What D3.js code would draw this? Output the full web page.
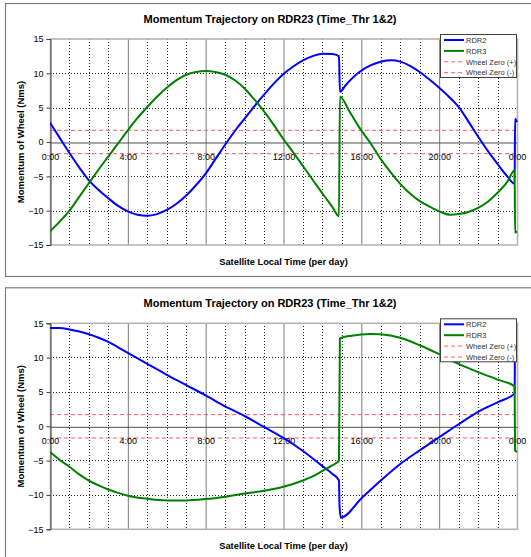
<!DOCTYPE html>
<html>
<head>
<meta charset="utf-8">
<script src="https://cdn.jsdelivr.net/npm/d3@7"></script>
<style>
  body { margin: 0; background: #fff; }
  text { font-family: "Liberation Sans", Arial, sans-serif; }
</style>
</head>
<body>
<svg id="chart" width="531" height="557"></svg>
<script>
// textos y ejes
const chartTitle = "Momentum Trajectory on RDR23 (Time_Thr 1&2)"
const xTitle = "Satellite Local Time (per day)"
const yTitle = "Momentum of Wheel (Nms)"
const hourTicks = [0, 4, 8, 12, 16, 20, 24]
const hourLabels = ["0:00", "4:00", "8:00", "12:00", "16:00", "20:00", "0:00"]
const valueTicks = [15, 10, 5, 0, -5, -10, -15]
const seriesNames = ["RDR2", "RDR3", "Wheel Zero (+)", "Wheel Zero (-)"]
const wheelZero = [1.7, -1.7]

// grafico superior: [hora, momento]
const top_rdr2 = [
  [0, 2.8], [0.5, 0.6], [1, -1.6], [1.5, -3.7], [2, -5.6], [2.5, -7.0], [3, -8.2], [3.5, -9.3],
  [4, -10.1], [4.5, -10.6], [5, -10.75], [5.5, -10.5], [6, -9.9], [6.5, -9.0], [7, -7.8],
  [7.5, -6.3], [8, -4.6], [8.5, -2.5], [9, -0.4], [9.5, 1.6], [10, 3.4], [10.5, 5.2],
  [11, 6.9], [11.5, 8.5], [12, 9.9], [12.5, 11.0], [13, 11.9], [13.5, 12.5], [14, 12.85],
  [14.5, 12.8], [14.85, 12.5], [14.9, 7.3], [15.2, 8.3], [15.9, 10.2], [16.5, 11.2],
  [17, 11.7], [17.55, 11.9], [18, 11.7], [18.5, 11.1], [19, 10.2], [19.5, 9.1], [20, 7.9],
  [20.5, 6.6], [21, 5.1], [21.5, 3.0], [22, 0.8], [22.5, -1.3], [23, -3.2], [23.5, -5.0],
  [23.88, -6.1], [23.9, 3.4], [24, 2.9]
]
const top_rdr3 = [
  [0, -13.0], [0.5, -11.6], [1, -10.0], [1.5, -8.0], [2, -6.0], [2.5, -4.0], [3, -2.1],
  [3.5, -0.2], [4, 1.7], [4.5, 3.5], [5, 5.1], [5.5, 6.6], [6, 7.9], [6.5, 9.0], [7, 9.8],
  [7.5, 10.2], [8, 10.35], [8.5, 10.2], [9, 9.8], [9.5, 9.0], [10, 7.8], [10.5, 6.2],
  [10.8, 5.2], [11.5, 2.5], [12, 0.4], [12.5, -1.5], [13, -3.5], [13.5, -5.5], [14, -7.5],
  [14.5, -9.4], [14.85, -10.8], [14.9, 6.6], [15.4, 4.4], [15.9, 2.1], [16.5, -0.3],
  [17, -2.5], [17.5, -4.4], [18, -6.1], [18.5, -7.5], [19, -8.6], [19.5, -9.4], [20, -10.1],
  [20.6, -10.6], [21, -10.5], [21.5, -10.2], [22, -9.6], [22.5, -8.7], [23, -7.4],
  [23.5, -5.8], [23.88, -4.1], [23.9, -13.2], [24, -13.0]
]

// grafico inferior
const bottom_rdr2 = [
  [0, 14.3], [0.5, 14.3], [1, 14.1], [1.5, 13.8], [2, 13.4], [2.5, 12.9], [3, 12.3],
  [3.5, 11.5], [4, 10.7], [5, 9.1], [6, 7.5], [7, 6.0], [8, 4.5], [9, 2.9], [10, 1.5],
  [11, -0.1], [12, -1.7], [13, -3.6], [14, -5.8], [14.5, -6.9], [14.85, -7.9],
  [14.88, -11.7], [14.95, -13.3], [16, -10.5], [17, -7.9], [18, -5.5], [19, -3.5],
  [20, -1.6], [21, 0.3], [22, 2.1], [23, 3.5], [23.88, 4.8], [23.9, 14.3], [24, 14.3]
]
const bottom_rdr3 = [
  [0, -3.75], [0.5, -4.9], [1, -5.9], [1.5, -7.0], [2, -7.9], [2.5, -8.6], [3, -9.2],
  [3.5, -9.7], [4, -10.1], [5, -10.55], [6, -10.8], [7, -10.8], [8, -10.6], [9, -10.25],
  [10, -9.8], [11, -9.4], [12, -8.8], [13, -7.9], [13.5, -7.3], [14, -6.5], [14.5, -5.7],
  [14.85, -5.0], [14.9, 12.8], [15.5, 13.2], [16.45, 13.45], [17, 13.4], [18, 12.9],
  [19, 11.8], [20, 10.5], [21, 9.1], [22, 7.9], [23, 6.8], [23.88, 5.8], [23.9, -3.5],
  [24, -3.7]
]

const svg = d3.select("#chart")
const blue = "#0000ff", green = "#008000", red = "#ff5a5a"

// zona del grafico
const plot = { left: 50, right: 517, top: 39, bottom: 245 }
const x = d3.scaleLinear().domain([0, 24]).range([plot.left, plot.right])
const y = d3.scaleLinear().domain([-15, 15]).range([plot.bottom, plot.top])

const line = d3.line()
  .x(d => x(d[0]))
  .y(d => y(d[1]))
  .curve(d3.curveMonotoneX)

function drawChart(dy, rdr2, rdr3, id) {
  const g = svg.append("g").attr("transform", `translate(0,${dy})`)

  // marco exterior
  g.append("rect")
    .attr("x", 5.5).attr("y", 3.5)
    .attr("width", 530).attr("height", 273)
    .attr("fill", "#fff")
    .attr("stroke", "#7f7f7f")
    .attr("stroke-width", 1.2)

  g.append("text")
    .attr("x", 270).attr("y", 23)
    .attr("text-anchor", "middle")
    .style("font-size", "11px").style("font-weight", "bold")
    .text(chartTitle)

  // rejilla vertical menor (cada hora)
  g.append("g").selectAll("line")
    .data(x.ticks(24).filter(h => h % 4 !== 0))
    .join("line")
    .attr("x1", d => Math.round(x(d)) + 0.5).attr("x2", d => Math.round(x(d)) + 0.5)
    .attr("y1", plot.top).attr("y2", plot.bottom)
    .attr("stroke", "#222").attr("stroke-width", 1)
    .attr("stroke-dasharray", "1,2")
    .attr("shape-rendering", "crispEdges")

  // rejilla horizontal
  g.append("g").selectAll("line")
    .data(valueTicks.filter(v => Math.abs(v) !== 15 && v !== 0))
    .join("line")
    .attr("x1", plot.left).attr("x2", plot.right)
    .attr("y1", d => Math.round(y(d)) + 0.5).attr("y2", d => Math.round(y(d)) + 0.5)
    .attr("stroke", "#222").attr("stroke-width", 1)
    .attr("stroke-dasharray", "1,2")
    .attr("shape-rendering", "crispEdges")

  // rejilla vertical mayor (cada 4 horas)
  g.append("g").selectAll("line")
    .data(hourTicks.filter(h => h > 0 && h < 24))
    .join("line")
    .attr("x1", d => x(d) + 0.5).attr("x2", d => x(d) + 0.5)
    .attr("y1", plot.top).attr("y2", plot.bottom)
    .attr("stroke", "#7a7a7a").attr("stroke-width", 1)

  // borde del area de trazado
  g.append("rect")
    .attr("x", plot.left + 0.5).attr("y", plot.top)
    .attr("width", plot.right - plot.left).attr("height", plot.bottom - plot.top)
    .attr("fill", "none")
    .attr("stroke", "#b4b4b4").attr("stroke-width", 1.6)

  // lineas Wheel Zero
  g.append("g").selectAll("line")
    .data(wheelZero)
    .join("line")
    .attr("x1", plot.left).attr("x2", plot.right)
    .attr("y1", d => y(d)).attr("y2", d => y(d))
    .attr("stroke", red).attr("stroke-width", 1)
    .attr("stroke-dasharray", "4,3")

  // eje Y
  const yAxis = g.append("g")
    .attr("transform", `translate(${plot.left + 0.5},0)`)
    .call(d3.axisLeft(y).tickValues(valueTicks).tickSize(4).tickPadding(3))
  yAxis.select(".domain").attr("stroke", "#404040")
  yAxis.selectAll(".tick line").attr("stroke", "#404040")
  yAxis.selectAll("text").style("font-size", "9px").attr("fill", "#000")
    .style("font-family", "'Liberation Sans', Arial, sans-serif")

  // eje X sobre el cero
  const xAxis = g.append("g")
    .attr("transform", `translate(0,${y(0) + 0.5})`)
    .call(d3.axisBottom(x).tickValues(hourTicks).tickFormat((d, i) => hourLabels[i])
      .tickSize(0).tickPadding(11))
  xAxis.select(".domain").attr("stroke", "#505050")
  xAxis.selectAll("text").style("font-size", "9px").attr("fill", "#000")
    .style("font-family", "'Liberation Sans', Arial, sans-serif")

  // series
  g.append("clipPath").attr("id", "clip" + id)
    .append("rect")
    .attr("x", plot.left).attr("y", plot.top - 2)
    .attr("width", plot.right - plot.left + 2).attr("height", plot.bottom - plot.top + 4)

  const series = g.append("g").attr("clip-path", `url(#clip${id})`)
  series.append("path").datum(rdr2)
    .attr("d", line).attr("fill", "none")
    .attr("stroke", blue).attr("stroke-width", 2)
  series.append("path").datum(rdr3)
    .attr("d", line).attr("fill", "none")
    .attr("stroke", green).attr("stroke-width", 2)

  // titulos de ejes
  g.append("text")
    .attr("x", (plot.left + plot.right) / 2).attr("y", 265)
    .attr("text-anchor", "middle")
    .style("font-size", "9.3px").style("font-weight", "bold")
    .text(xTitle)
  g.append("text")
    .attr("transform", `translate(24,${y(0)}) rotate(-90)`)
    .attr("text-anchor", "middle")
    .style("font-size", "9.5px").style("font-weight", "bold")
    .text(yTitle)

  // leyenda
  const lg = g.append("g")
  lg.append("rect")
    .attr("x", 440.5).attr("y", 34.5)
    .attr("width", 76).attr("height", 43)
    .attr("fill", "#fff").attr("stroke", "#404040").attr("stroke-width", 1)
  const styles = [
    { c: blue, w: 2, dash: null },
    { c: green, w: 2, dash: null },
    { c: red, w: 1, dash: "4,3" },
    { c: red, w: 1, dash: "4,3" }
  ]
  const rows = lg.selectAll("g.row").data(seriesNames).join("g")
    .attr("class", "row")
    .attr("transform", (d, i) => `translate(0,${40 + i * 10.9})`)
  rows.append("line")
    .attr("x1", 444).attr("x2", 464)
    .attr("stroke", (d, i) => styles[i].c)
    .attr("stroke-width", (d, i) => styles[i].w)
    .attr("stroke-dasharray", (d, i) => styles[i].dash)
  rows.append("text")
    .attr("x", 466).attr("y", 2.7)
    .style("font-size", "7.5px").attr("fill", "#333")
    .text(d => d)
}

drawChart(0, top_rdr2, top_rdr3, 1)
drawChart(284.3, bottom_rdr2, bottom_rdr3, 2)
</script>
</body>
</html>
